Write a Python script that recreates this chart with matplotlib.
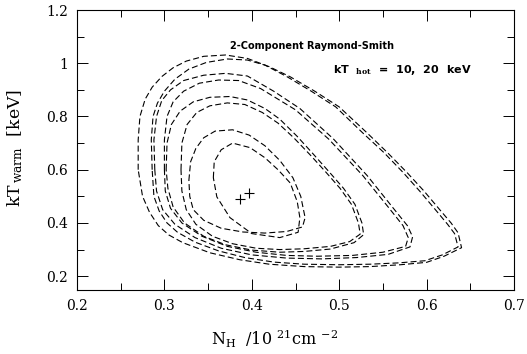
import matplotlib
matplotlib.use("Agg")
import matplotlib.pyplot as plt
from matplotlib.ticker import MultipleLocator, FuncFormatter

# ---------------- data ----------------
x_ticks = [0.2, 0.3, 0.4, 0.5, 0.6, 0.7]
y_ticks = [0.2, 0.4, 0.6, 0.8, 1.0, 1.2]

# confidence contours (N_H, kT_warm), two fits (kT_hot = 10 and 20 keV)
c4b_x = [0.270, 0.270, 0.272, 0.278, 0.286, 0.297, 0.310, 0.325, 0.345, 0.370, 0.395, 0.420, 0.444, 0.472, 0.500, 0.532, 0.555, 0.578, 0.597, 0.615, 0.628, 0.636, 0.640, 0.620, 0.600, 0.570, 0.535, 0.500, 0.460, 0.420, 0.386, 0.352, 0.321, 0.305, 0.293, 0.283, 0.275]
c4b_y = [0.600, 0.712, 0.800, 0.865, 0.910, 0.950, 0.983, 1.008, 1.026, 1.031, 1.018, 0.987, 0.949, 0.895, 0.836, 0.738, 0.665, 0.588, 0.520, 0.450, 0.400, 0.363, 0.307, 0.275, 0.252, 0.243, 0.236, 0.234, 0.236, 0.245, 0.262, 0.288, 0.326, 0.355, 0.390, 0.440, 0.500]

c4a_x = [0.286, 0.285, 0.287, 0.292, 0.300, 0.312, 0.328, 0.348, 0.372, 0.395, 0.415, 0.440, 0.468, 0.496, 0.527, 0.551, 0.573, 0.592, 0.610, 0.624, 0.632, 0.636, 0.618, 0.598, 0.568, 0.535, 0.500, 0.460, 0.425, 0.392, 0.362, 0.335, 0.315, 0.303, 0.294, 0.288]
c4a_y = [0.600, 0.712, 0.800, 0.850, 0.895, 0.940, 0.978, 1.003, 1.016, 1.012, 0.993, 0.950, 0.895, 0.836, 0.738, 0.665, 0.590, 0.520, 0.450, 0.395, 0.360, 0.310, 0.280, 0.258, 0.250, 0.245, 0.243, 0.245, 0.253, 0.270, 0.295, 0.328, 0.365, 0.400, 0.445, 0.500]

c3a_x = [0.289, 0.288, 0.291, 0.297, 0.307, 0.322, 0.345, 0.370, 0.395, 0.425, 0.455, 0.493, 0.532, 0.562, 0.578, 0.584, 0.581, 0.556, 0.520, 0.480, 0.440, 0.400, 0.365, 0.335, 0.312, 0.298, 0.291]
c3a_y = [0.600, 0.712, 0.800, 0.860, 0.900, 0.935, 0.955, 0.962, 0.952, 0.895, 0.830, 0.717, 0.578, 0.455, 0.390, 0.348, 0.310, 0.282, 0.270, 0.265, 0.268, 0.280, 0.305, 0.345, 0.395, 0.450, 0.520]

c3b_x = [0.300, 0.300, 0.303, 0.310, 0.322, 0.340, 0.362, 0.385, 0.410, 0.450, 0.488, 0.527, 0.556, 0.573, 0.579, 0.576, 0.550, 0.515, 0.475, 0.440, 0.405, 0.372, 0.343, 0.320, 0.307, 0.301]
c3b_y = [0.600, 0.712, 0.800, 0.855, 0.895, 0.925, 0.937, 0.935, 0.905, 0.825, 0.715, 0.578, 0.460, 0.390, 0.345, 0.312, 0.290, 0.278, 0.275, 0.278, 0.290, 0.312, 0.350, 0.400, 0.455, 0.520]

c2a_x = [0.302, 0.303, 0.308, 0.318, 0.333, 0.352, 0.375, 0.395, 0.415, 0.432, 0.452, 0.470, 0.489, 0.505, 0.518, 0.526, 0.528, 0.517, 0.490, 0.460, 0.432, 0.400, 0.370, 0.345, 0.323, 0.310, 0.304]
c2a_y = [0.600, 0.700, 0.770, 0.820, 0.855, 0.872, 0.875, 0.862, 0.830, 0.790, 0.725, 0.660, 0.590, 0.530, 0.470, 0.400, 0.356, 0.326, 0.302, 0.293, 0.290, 0.298, 0.318, 0.350, 0.400, 0.460, 0.530]

c2b_x = [0.319, 0.320, 0.326, 0.337, 0.352, 0.372, 0.392, 0.412, 0.430, 0.448, 0.467, 0.485, 0.501, 0.514, 0.522, 0.524, 0.512, 0.490, 0.460, 0.432, 0.405, 0.378, 0.355, 0.336, 0.325, 0.320]
c2b_y = [0.600, 0.700, 0.770, 0.815, 0.840, 0.851, 0.845, 0.815, 0.775, 0.720, 0.655, 0.590, 0.530, 0.470, 0.400, 0.358, 0.330, 0.312, 0.303, 0.300, 0.305, 0.322, 0.350, 0.395, 0.450, 0.520]

c1b_x = [0.328, 0.330, 0.336, 0.345, 0.358, 0.378, 0.397, 0.415, 0.432, 0.447, 0.456, 0.461, 0.458, 0.440, 0.415, 0.390, 0.365, 0.345, 0.333, 0.329]
c1b_y = [0.560, 0.630, 0.680, 0.720, 0.745, 0.750, 0.730, 0.690, 0.635, 0.570, 0.500, 0.420, 0.385, 0.368, 0.362, 0.366, 0.380, 0.410, 0.450, 0.500]

c1a_x = [0.356, 0.357, 0.365, 0.378, 0.398, 0.415, 0.430, 0.444, 0.452, 0.455, 0.453, 0.432, 0.400, 0.375, 0.360]
c1a_y = [0.570, 0.630, 0.675, 0.700, 0.683, 0.645, 0.600, 0.550, 0.480, 0.420, 0.365, 0.345, 0.360, 0.420, 0.498]

contours = [(c4b_x, c4b_y), (c4a_x, c4a_y), (c3a_x, c3a_y), (c3b_x, c3b_y),
            (c2a_x, c2a_y), (c2b_x, c2b_y), (c1b_x, c1b_y), (c1a_x, c1a_y)]

# best-fit points
best_nh = [0.3865, 0.397]
best_kt = [0.491, 0.512]

# ---------------- figure ----------------
plt.rcParams['mathtext.fontset'] = 'dejavuserif'
fig = plt.figure(figsize=(5.27, 3.54), dpi=100)
ax = fig.add_axes([77/527, 1 - 289.5/354, 437/527, 279.5/354])

dash = (0, (5.4, 2.75))
for cx, cy in contours:
    ax.plot(list(cx) + [cx[0]], list(cy) + [cy[0]], color='black', lw=0.8, linestyle=dash)

ax.plot(best_nh, best_kt, linestyle='none', marker='+', ms=7, mew=0.8, color='black')

ax.set_xlim(0.2, 0.7)
ax.set_ylim(0.15, 1.2)
ax.set_xticks(x_ticks)
ax.set_yticks(y_ticks)
ax.xaxis.set_minor_locator(MultipleLocator(0.05))
ax.yaxis.set_minor_locator(MultipleLocator(0.1))
fmt = FuncFormatter(lambda v, p: ('%g' % round(v, 3)))
ax.xaxis.set_major_formatter(fmt)
ax.yaxis.set_major_formatter(fmt)
ax.tick_params(which='both', direction='in', top=True, right=True, width=0.7, colors='black')
ax.tick_params(which='major', length=8, pad=6.5, labelsize=10)
ax.tick_params(which='minor', length=4.8)
for lab in ax.get_xticklabels() + ax.get_yticklabels():
    lab.set_family('DejaVu Serif')
for s in ax.spines.values():
    s.set_linewidth(0.8)

ax.text(0.538, 0.871, '2-Component Raymond-Smith', transform=ax.transAxes,
        ha='center', va='center', fontsize=7, family='DejaVu Sans', fontweight='bold')
ax.text(0.586, 0.785, r'kT  $_{\mathbf{hot}}$  =  10,  20  keV', transform=ax.transAxes,
        ha='left', va='center', fontsize=8, family='DejaVu Sans', fontweight='bold')

fig.text(275/527, 1 - 339/354, r'N$_{\rm H}$  /10 $^{21}$cm $^{-2}$', ha='center', va='center',
         fontsize=11.5, family='DejaVu Serif')
fig.text(15/527, 1 - 148/354, r'kT$_{\rm \,warm}$  [keV]', ha='center', va='center',
         rotation=90, fontsize=12.5, family='DejaVu Serif')

fig.savefig('out.png', dpi=100)
